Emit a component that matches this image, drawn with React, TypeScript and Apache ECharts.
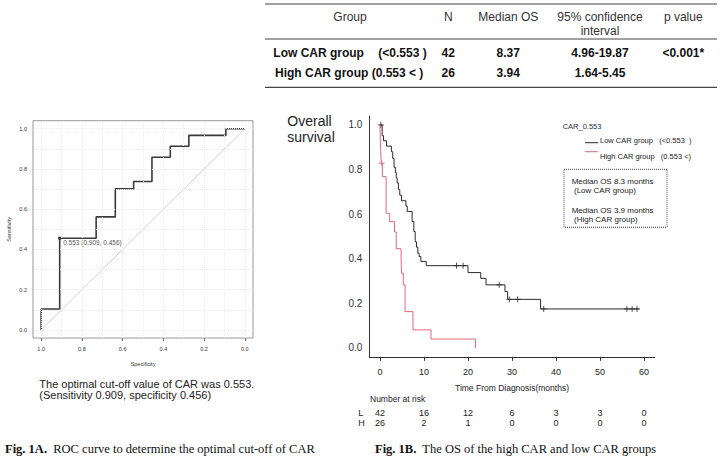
import React, { useEffect, useRef } from 'react';
import * as echarts from 'echarts';

// ---------- ROC data ----------
const rocSpecificity = [1, 1, 0.909, 0.909, 0.73, 0.73, 0.636, 0.636, 0.546, 0.546, 0.456, 0.456, 0.366, 0.366, 0.275, 0.275, 0.093, 0.093, 0];
const rocSensitivity = [0, 0.104, 0.104, 0.456, 0.456, 0.562, 0.562, 0.702, 0.702, 0.738, 0.738, 0.858, 0.858, 0.913, 0.913, 0.967, 0.967, 1, 1];
const rocTicks = [0, 0.2, 0.4, 0.6, 0.8, 1.0];
const rocGridValues = [0, 0.1, 0.2, 0.3, 0.4, 0.5, 0.6, 0.7, 0.8, 0.9, 1.0];
const cutoffSpec = 0.909;
const cutoffSens = 0.456;
const cutoffLabel = '0.553 (0.909, 0.456)';

// ---------- Kaplan-Meier data ----------
const lowTimes = [0, 0.5, 0.8, 1.5, 2.6, 2.9, 3.2, 3.5, 3.7, 3.9, 4.2, 4.5, 4.9, 5.9, 6.2, 7.3, 7.7, 8.0, 8.3, 8.6, 8.9, 9.3, 10.5, 20.0, 22.9, 24.1, 28.4, 29.0, 36.5, 58.9];
const lowSurv = [1, 0.952, 0.929, 0.905, 0.88, 0.85, 0.81, 0.787, 0.763, 0.74, 0.71, 0.685, 0.66, 0.636, 0.612, 0.567, 0.522, 0.476, 0.452, 0.425, 0.41, 0.388, 0.369, 0.338, 0.312, 0.283, 0.253, 0.218, 0.175, 0.175];
const highTimes = [0, 0.15, 0.3, 0.55, 1.4, 2.2, 3.3, 3.7, 4.8, 4.9, 5.3, 5.7, 7.5, 11.6, 21.7];
const highSurv = [1, 0.885, 0.828, 0.768, 0.604, 0.566, 0.52, 0.445, 0.41, 0.335, 0.283, 0.163, 0.081, 0.04, 0];
const lowCensorTimes = [0.2, 17.4, 18.9, 27.1, 29.4, 31.3, 37.2, 56.1, 57.3, 58.4];
const lowCensorSurv = [1, 0.369, 0.369, 0.283, 0.218, 0.218, 0.175, 0.175, 0.175, 0.175];
const highCensorTimes = [0.4];
const highCensorSurv = [0.828];
const kmXTicks = [0, 10, 20, 30, 40, 50, 60];
const kmYTicks = [0, 0.2, 0.4, 0.6, 0.8, 1.0];
const riskLow = [42, 16, 12, 6, 3, 3, 0];
const riskHigh = [26, 2, 1, 0, 0, 0, 0];

// ---------- Table data ----------
const tableGroups = ['Low CAR group', 'High CAR group (0.553 < )'];
const tableRanges = ['(<0.553 )', ''];
const tableN = ['42', '26'];
const tableMedian = ['8.37', '3.94'];
const tableCI = ['4.96-19.87', '1.64-5.45'];
const tableP = ['<0.001*', ''];

const SANS = '"Liberation Sans", Arial, sans-serif';
const SERIF = '"Liberation Serif", "Times New Roman", serif';

function txt(text: string, x: number, y: number, size: number, opts: any = {}) {
  const align = opts.align || 'left';
  return {
    type: 'text',
    silent: true,
    style: {
      text,
      x,
      y,
      fontSize: size,
      fontFamily: opts.family || SANS,
      fontWeight: opts.weight || 'normal',
      fill: opts.color || '#222',
      align,
      textAlign: align,
      verticalAlign: 'middle',
      textVerticalAlign: 'middle',
      rich: opts.rich,
    },
  };
}

function hline(x1: number, x2: number, y: number, color = '#444', w = 1.2) {
  return { type: 'line', silent: true, shape: { x1, y1: y, x2, y2: y }, style: { stroke: color, lineWidth: w } };
}

export default function App() {
  const ref = useRef<HTMLDivElement>(null);

  useEffect(() => {
    if (!ref.current) return;
    const chart = echarts.init(ref.current, undefined, { renderer: 'svg' });

    const plusSymbol = 'path://M0,5L10,5M5,0L5,10';
    const fmt1 = (v: number) => Number(v).toFixed(1);

    const graphics: any[] = [];
    // table
    graphics.push(hline(265, 717, 4));
    graphics.push(hline(265, 717, 39));
    graphics.push(hline(265, 717, 87.3));
    const hdrColor = '#333';
    graphics.push(txt('Group', 350, 16.7, 12, { align: 'center', color: hdrColor }));
    graphics.push(txt('N', 448.3, 16.7, 12, { align: 'center', color: hdrColor }));
    graphics.push(txt('Median OS', 508.3, 16.7, 12, { align: 'center', color: hdrColor }));
    graphics.push(txt('95% confidence', 600, 16.7, 12, { align: 'center', color: hdrColor }));
    graphics.push(txt('interval', 600, 30.7, 12, { align: 'center', color: hdrColor }));
    graphics.push(txt('p value', 683.3, 16.7, 12, { align: 'center', color: hdrColor }));
    const rowY = [52.7, 72.7];
    const rowX = [273.3, 275];
    for (let i = 0; i < tableGroups.length; i++) {
      const b = { weight: 'bold', color: '#111' };
      graphics.push(txt(tableGroups[i], rowX[i], rowY[i], 12, b));
      if (tableRanges[i]) graphics.push(txt(tableRanges[i], 378.3, rowY[i], 12, b));
      graphics.push(txt(tableN[i], 448.3, rowY[i], 12, { ...b, align: 'center' }));
      graphics.push(txt(tableMedian[i], 508.3, rowY[i], 12, { ...b, align: 'center' }));
      graphics.push(txt(tableCI[i], 600, rowY[i], 12, { ...b, align: 'center' }));
      if (tableP[i]) graphics.push(txt(tableP[i], 683.3, rowY[i], 12, { ...b, align: 'center' }));
    }
    // Overall survival
    graphics.push(txt('Overall', 287.3, 120.7, 14, { color: '#222' }));
    graphics.push(txt('survival', 287.3, 137.3, 14, { color: '#222' }));
    // legend
    graphics.push(txt('CAR_0.553', 562.7, 126.7, 7.5, { color: '#1f2d4d' }));
    graphics.push({ type: 'line', silent: true, shape: { x1: 585, y1: 142.7, x2: 598, y2: 142.7 }, style: { stroke: '#2b2b2b', lineWidth: 1 } });
    graphics.push({ type: 'line', silent: true, shape: { x1: 585, y1: 151.7, x2: 598, y2: 151.7 }, style: { stroke: '#e0687c', lineWidth: 1 } });
    graphics.push(txt('Low CAR group   (<0.553  )', 600, 140.7, 7.5, { color: '#222' }));
    graphics.push(txt('High CAR group   (0.553 <)', 600, 156.3, 7.5, { color: '#222' }));
    graphics.push({
      type: 'rect', silent: true,
      shape: { x: 564, y: 169.3, width: 103, height: 58 },
      style: { fill: 'none', stroke: '#444', lineWidth: 1, lineDash: [1, 1] },
    });
    graphics.push(txt('Median OS 8.3 months', 571.7, 181.7, 8, { color: '#222' }));
    graphics.push(txt('(Low CAR group)', 574, 190.7, 8, { color: '#222' }));
    graphics.push(txt('Median OS 3.9 months', 571.7, 210, 8, { color: '#222' }));
    graphics.push(txt('(High CAR group)', 574, 219.3, 8, { color: '#222' }));
    // risk table labels
    graphics.push(txt('Number at risk', 370, 399, 8.5, { color: '#222' }));
    graphics.push(txt('L', 358.3, 413.3, 9, { color: '#222' }));
    graphics.push(txt('H', 358.3, 423.3, 9, { color: '#222' }));
    // ROC caption
    graphics.push(txt('The optimal cut-off value of CAR was 0.553.', 39.3, 384.3, 11, { color: '#222' }));
    graphics.push(txt('(Sensitivity 0.909, specificity 0.456)', 39.3, 395, 11, { color: '#222' }));
    // figure captions
    const rich = { b: { fontWeight: 'bold', fontFamily: SERIF, fontSize: 12.5, fill: '#111' } };
    graphics.push(txt('{b|Fig. 1A.}  ROC curve to determine the optimal cut-off of CAR', 5, 449.3, 12.5, { family: SERIF, color: '#111', rich }));
    graphics.push(txt('{b|Fig. 1B.}  The OS of the high CAR and low CAR groups', 375, 449.3, 12.5, { family: SERIF, color: '#111', rich }));

    const zip = (a: number[], b: number[]) => a.map((v, i) => [v, b[i]]);

    const option: any = {
      animation: false,
      backgroundColor: '#fff',
      grid: [
        { left: 33, top: 120.7, right: 469, bottom: 123, show: true, borderColor: '#999', borderWidth: 1, backgroundColor: 'transparent' },
        { left: 369.4, top: 116, right: 67.4, bottom: 104.1 },
      ],
      xAxis: [
        {
          gridIndex: 0, type: 'value', min: -0.04, max: 1.04, inverse: true,
          axisLine: { show: false, onZero: false },
          axisTick: { show: true, customValues: rocTicks, length: 3, lineStyle: { color: '#666' } },
          axisLabel: { customValues: rocTicks, formatter: fmt1, fontSize: 5.5, color: '#333', margin: 8, fontFamily: SANS },
          splitLine: { show: false },
          name: 'Specificity', nameLocation: 'middle', nameGap: 23,
          nameTextStyle: { fontSize: 5.5, color: '#333', fontFamily: SANS },
        },
        {
          gridIndex: 1, type: 'value', min: -2.4, max: 62.4,
          axisLine: { show: true, onZero: false, lineStyle: { color: '#333', width: 1 } },
          axisTick: { show: true, customValues: kmXTicks, length: 4, lineStyle: { color: '#333' } },
          axisLabel: { customValues: kmXTicks, fontSize: 9, color: '#222', margin: 11, fontFamily: SANS },
          splitLine: { show: false },
          name: 'Time From Diagnosis(months)', nameLocation: 'middle', nameGap: 27,
          nameTextStyle: { fontSize: 8.5, color: '#222', fontFamily: SANS },
        },
        {
          gridIndex: 1, type: 'value', min: -2.4, max: 62.4, position: 'bottom', offset: 44,
          axisLine: { show: false, onZero: false },
          axisTick: { show: false },
          axisLabel: { customValues: kmXTicks, formatter: (v: number) => String(riskLow[kmXTicks.indexOf(v)]), fontSize: 9, color: '#222', margin: 8, fontFamily: SANS },
          splitLine: { show: false },
        },
        {
          gridIndex: 1, type: 'value', min: -2.4, max: 62.4, position: 'bottom', offset: 54,
          axisLine: { show: false, onZero: false },
          axisTick: { show: false },
          axisLabel: { customValues: kmXTicks, formatter: (v: number) => String(riskHigh[kmXTicks.indexOf(v)]), fontSize: 9, color: '#222', margin: 8, fontFamily: SANS },
          splitLine: { show: false },
        },
      ],
      yAxis: [
        {
          gridIndex: 0, type: 'value', min: -0.04, max: 1.04,
          axisLine: { show: false, onZero: false },
          axisTick: { show: false },
          axisLabel: { customValues: rocTicks, formatter: fmt1, fontSize: 5.5, color: '#333', margin: 6, fontFamily: SANS },
          splitLine: { show: false },
          name: 'Sensitivity', nameLocation: 'middle', nameGap: 21,
          nameTextStyle: { fontSize: 5.5, color: '#333', fontFamily: SANS },
        },
        {
          gridIndex: 1, type: 'value', min: -0.04, max: 1.04,
          axisLine: { show: true, onZero: false, lineStyle: { color: '#333', width: 1 } },
          axisTick: { show: false },
          axisLabel: { customValues: kmYTicks, formatter: fmt1, fontSize: 10, color: '#333', margin: 7, fontFamily: SANS },
          splitLine: { show: false },
        },
      ],
      series: [
        {
          type: 'line', xAxisIndex: 0, yAxisIndex: 0, silent: true,
          data: [[1, 0], [0, 1]], symbol: 'none',
          lineStyle: { color: '#c4c4c4', width: 0.8 },
          markLine: {
            silent: true, symbol: ['none', 'none'], label: { show: false },
            lineStyle: { color: '#ececec', type: 'dotted', width: 1 },
            data: [...rocGridValues.map((v) => ({ xAxis: v })), ...rocGridValues.map((v) => ({ yAxis: v }))],
          },
        },
        {
          type: 'line', xAxisIndex: 0, yAxisIndex: 0, silent: true,
          data: zip(rocSpecificity, rocSensitivity), symbol: 'none',
          lineStyle: { color: '#3a3a3a', width: 1.6 },
        },
        {
          type: 'scatter', xAxisIndex: 0, yAxisIndex: 0, silent: true,
          data: [[cutoffSpec, cutoffSens]], symbol: 'rect', symbolSize: 3,
          itemStyle: { color: '#000' },
          label: { show: true, position: 'right', distance: 2, offset: [0, 4], formatter: cutoffLabel, fontSize: 6.5, color: '#222', fontFamily: SANS },
        },
        {
          type: 'line', xAxisIndex: 1, yAxisIndex: 1, silent: true, step: 'end',
          data: zip(lowTimes, lowSurv), symbol: 'none',
          lineStyle: { color: '#2b2b2b', width: 1 },
        },
        {
          type: 'line', xAxisIndex: 1, yAxisIndex: 1, silent: true, step: 'end',
          data: zip(highTimes, highSurv), symbol: 'none',
          lineStyle: { color: '#e0687c', width: 1 },
        },
        {
          type: 'scatter', xAxisIndex: 1, yAxisIndex: 1, silent: true,
          data: zip(lowCensorTimes, lowCensorSurv), symbol: plusSymbol, symbolSize: 6,
          itemStyle: { color: 'rgba(0,0,0,0)', borderColor: '#2b2b2b', borderWidth: 1 },
        },
        {
          type: 'scatter', xAxisIndex: 1, yAxisIndex: 1, silent: true,
          data: zip(highCensorTimes, highCensorSurv), symbol: plusSymbol, symbolSize: 6,
          itemStyle: { color: 'rgba(0,0,0,0)', borderColor: '#e0687c', borderWidth: 1 },
        },
      ],
      graphic: graphics,
    };

    chart.setOption(option);
    return () => chart.dispose();
  }, []);

  return (
    <div
      ref={ref}
      style={{ position: 'fixed', left: 0, top: 0, width: 722, height: 461, background: '#fff' }}
    />
  );
}
